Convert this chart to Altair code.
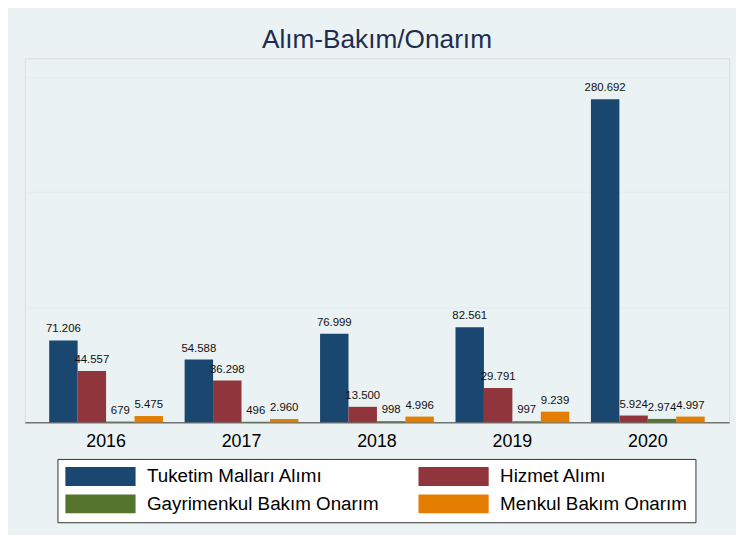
import altair as alt
import pandas as pd

years = ["2016", "2017", "2018", "2019", "2020"]
series = ["Tuketim Malları Alımı", "Hizmet Alımı", "Gayrimenkul Bakım Onarım", "Menkul Bakım Onarım"]
tuketim = [71206, 54588, 76999, 82561, 280692]
hizmet = [44557, 36298, 13500, 29791, 5924]
gayrimenkul = [679, 496, 998, 997, 2974]
menkul = [5475, 2960, 4996, 9239, 4997]
colors = ["#1A476F", "#90353B", "#55752F", "#E37E00"]

rows = []
for s, vals in zip(series, [tuketim, hizmet, gayrimenkul, menkul]):
    for y, v in zip(years, vals):
        rows.append({"year": y, "series": s, "value": v,
                     "label": f"{v:,}".replace(",", ".")})
df = pd.DataFrame(rows)

FONT = "Liberation Sans"

x_enc = alt.X("year:N", sort=years, title=None,
              scale=alt.Scale(paddingInner=0.16, paddingOuter=0.18),
              axis=alt.Axis(labelFontSize=18, labelColor="#000000", labelFont=FONT,
                            labelAngle=0, ticks=False, tickSize=0, labelPadding=24,
                            labelBaseline="alphabetic", domainColor="#3A3A3A",
                            domainWidth=1, grid=False))
xoff = alt.XOffset("series:N", sort=series,
                   scale=alt.Scale(domain=series, paddingInner=0, paddingOuter=0))
y_enc = alt.Y("value:Q", title=None,
              scale=alt.Scale(domain=[0, 316332], nice=False, zero=True),
              axis=alt.Axis(values=[100000, 200000, 300000], labels=False, ticks=False,
                            domain=False, grid=True, gridColor="#E4EDEF", gridWidth=1))

bars = alt.Chart(df).mark_bar(opacity=1).encode(
    x=x_enc, xOffset=xoff, y=y_enc,
    color=alt.Color("series:N", sort=series, title=None,
                    scale=alt.Scale(domain=series, range=colors),
                    legend=alt.Legend(orient="none", legendX=33, legendY=405,
                                      columns=2, direction="horizontal",
                                      symbolType="M-1,-1H6.47V1H-1Z", symbolSize=361,
                                      symbolStrokeWidth=0, symbolOpacity=1,
                                      labelOffset=63.5, labelFontSize=19, labelFont=FONT,
                                      labelColor="#000000", labelLimit=500,
                                      columnPadding=40, rowPadding=8, padding=8,
                                      fillColor="#FFFFFF", strokeColor="#333333")),
)

labels = alt.Chart(df).mark_text(fontSize=11.5, font=FONT, color="#111111",
                                 baseline="alphabetic", dy=-8).encode(
    x=alt.X("year:N", sort=years), xOffset=xoff, y=alt.Y("value:Q"),
    text="label:N",
)

chart = alt.layer(bars, labels).properties(
    width=712, height=368,
    autosize=alt.AutoSizeParams(type="none"),
    padding={"left": 17, "top": 48, "right": 7, "bottom": 111},
    background="#EAF2F3",
    title=alt.Title("Alım-Bakım/Onarım", fontSize=26.5, font=FONT, color="#1F2C4F",
                    fontWeight="normal", anchor="middle", baseline="alphabetic",
                    offset=3, dy=19),
).configure_view(fill="#FFFFFF", stroke=None).configure(font=FONT)

chart.save("out.html", embed_options={"renderer": "svg", "actions": False})
